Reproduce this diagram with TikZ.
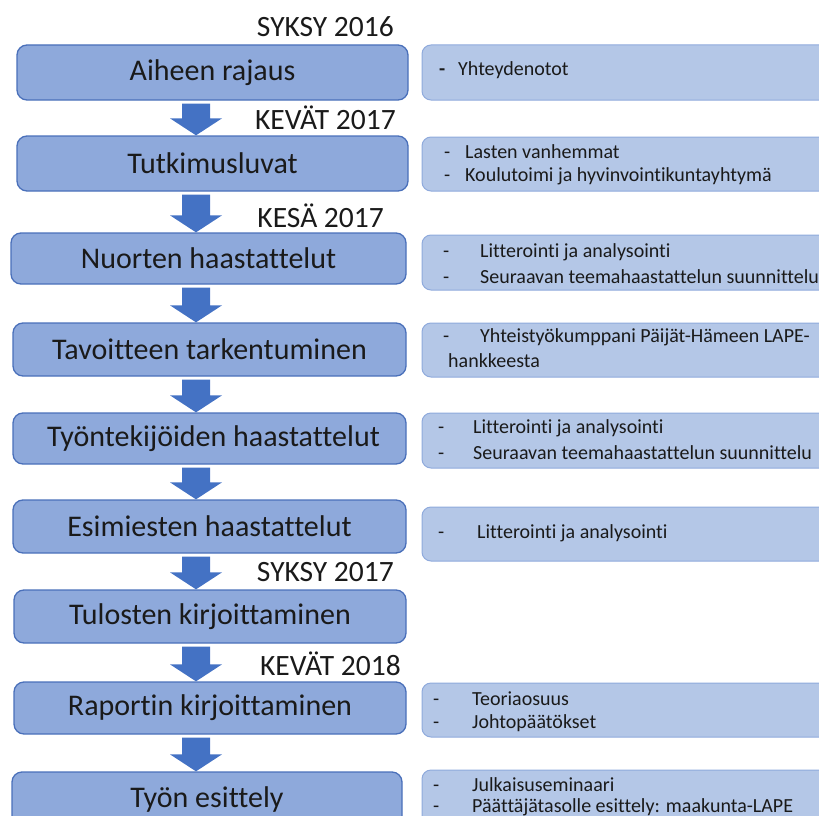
\documentclass[tikz,border=0pt]{standalone}
\usepackage{fontspec}
\setmainfont[Ligatures={NoCommon,NoContextual}]{Carlito}
\usetikzlibrary{calc}
\definecolor{lfill}{HTML}{8EA9DB}
\definecolor{ldraw}{HTML}{4A70BA}
\definecolor{rfill}{HTML}{B4C7E7}
\definecolor{rdraw}{HTML}{8FAADC}
\definecolor{afill}{HTML}{4472C4}
\definecolor{txt}{HTML}{1A1A1A}
\tikzset{
  lbox/.style={draw=ldraw, line width=1.3pt, fill=lfill, rounded corners=10pt, inner sep=0pt, text=txt, font=\fontsize{30}{34}\selectfont},
  rbox/.style={draw=rdraw, line width=1pt, fill=rfill, rounded corners=9pt, inner sep=0pt},
  rtext/.style={anchor=west, inner sep=0pt, text=txt, font=\fontsize{20}{23}\selectfont},
  yeartext/.style={anchor=east, inner sep=0pt, text=txt, font=\fontsize{29.5}{33}\selectfont},
  arr/.style={fill=afill}
}
\newcommand\blockarr[2]{%
  \fill[arr] ($(#1.south -| ax)+(-14,3)$) -- ($(#1.south -| ax)+(14,3)$)
    -- ($(#2.north -| ax)+(14,-17)$) -- ($(#2.north -| ax)+(26,-17)$)
    -- (#2.north -| ax) -- ($(#2.north -| ax)+(-26,-17)$)
    -- ($(#2.north -| ax)+(-14,-17)$) -- cycle;}
\begin{document}
\begin{tikzpicture}[x=1pt,y=-1pt]
\useasboundingbox (0,0) rectangle (819,816);
\clip (0,0) rectangle (819,816);
\coordinate (ax) at (196,0);
% left boxes
\node[lbox, minimum width=391pt, minimum height=55pt] (b1) at (212.5,72.5) {Aiheen rajaus};
\node[lbox, minimum width=391pt, minimum height=55pt] (b2) at (212.5,163.5) {Tutkimusluvat};
\node[lbox, minimum width=395pt, minimum height=51pt] (b3) at (208.5,258.5) {Nuorten haastattelut};
\node[lbox, minimum width=393pt, minimum height=53pt] (b4) at (209.5,349.5) {Tavoitteen tarkentuminen};
\node[lbox, minimum width=393pt, minimum height=51pt] (b5) at (209.5,438.5) {\hspace{8pt}Työntekijöiden haastattelut};
\node[lbox, minimum width=393pt, minimum height=53pt] (b6) at (209.5,526.5) {Esimiesten haastattelut};
\node[lbox, minimum width=392pt, minimum height=53pt] (b7) at (210,616.5) {Tulosten kirjoittaminen};
\node[lbox, minimum width=392pt, minimum height=52pt] (b8) at (210,708) {Raportin kirjoittaminen};
\node[lbox, minimum width=390pt, minimum height=55pt] (b9) at (207,799.5) {Työn esittely};
% arrows
\blockarr{b1}{b2}
\blockarr{b2}{b3}
\blockarr{b3}{b4}
\blockarr{b4}{b5}
\blockarr{b5}{b6}
\blockarr{b6}{b7}
\blockarr{b7}{b8}
\blockarr{b8}{b9}
% year labels
\node[yeartext] (y1) at (394,27) {SYKSY 2016};
\node[yeartext] (y2) at (396,118) {KEVÄT 2017};
\node[yeartext] (y3) at (384,216) {KESÄ 2017};
\node[yeartext] (y4) at (394,572) {SYKSY 2017};
\node[yeartext] (y5) at (401,664) {KEVÄT 2018};
% right boxes
\node[rbox, minimum width=428pt, minimum height=55pt] (r1) at (636,72.5) {};
\node[rbox, minimum width=428pt, minimum height=54pt] (r2) at (636,164) {};
\node[rbox, minimum width=428pt, minimum height=55pt] (r3) at (636,262.5) {};
\node[rbox, minimum width=428pt, minimum height=54pt] (r4) at (636,350) {};
\node[rbox, minimum width=428pt, minimum height=55pt] (r5) at (636,440.5) {};
\node[rbox, minimum width=428pt, minimum height=54pt] (r6) at (636,534) {};
\node[rbox, minimum width=428pt, minimum height=54pt] (r8) at (636,710) {};
\node[rbox, minimum width=428pt, minimum height=55pt] (r9) at (636,797.5) {};
% right texts
\node[rtext] (t1) at (439,70) {\makebox[19pt][l]{\textbf{-}}Yhteydenotot};
\node[rtext] (t2a) at (444,152) {\makebox[21pt][l]{-}Lasten vanhemmat};
\node[rtext] (t2b) at (444,176) {\makebox[21pt][l]{-}Koulutoimi ja hyvinvointikuntayhtymä};
\node[rtext] (t3a) at (443,252) {\makebox[37pt][l]{-}Litterointi ja analysointi};
\node[rtext] (t3b) at (443,277) {\makebox[37pt][l]{-}Seuraavan teemahaastattelun suunnittelu};
\node[rtext] (t4a) at (443,337) {\makebox[37pt][l]{-}Yhteistyökumppani Päijät-Hämeen LAPE-};
\node[rtext] (t4b) at (448,361) {hankkeesta};
\node[rtext] (t5a) at (438,428) {\makebox[35pt][l]{-}Litterointi ja analysointi};
\node[rtext] (t5b) at (438,453) {\makebox[35pt][l]{-}Seuraavan teemahaastattelun suunnittelu};
\node[rtext] (t6) at (438,533) {\makebox[39pt][l]{-}Litterointi ja analysointi};
\node[rtext] (t8a) at (433,699) {\makebox[39pt][l]{-}Teoriaosuus};
\node[rtext] (t8b) at (433,723) {\makebox[39pt][l]{-}Johtopäätökset};
\node[rtext] (t9a) at (433,785) {\makebox[39pt][l]{-}Julkaisuseminaari};
\node[rtext] (t9b) at (433,807) {\makebox[39pt][l]{-}Päättäjätasolle esittely: maakunta-LAPE};
\end{tikzpicture}
\end{document}
